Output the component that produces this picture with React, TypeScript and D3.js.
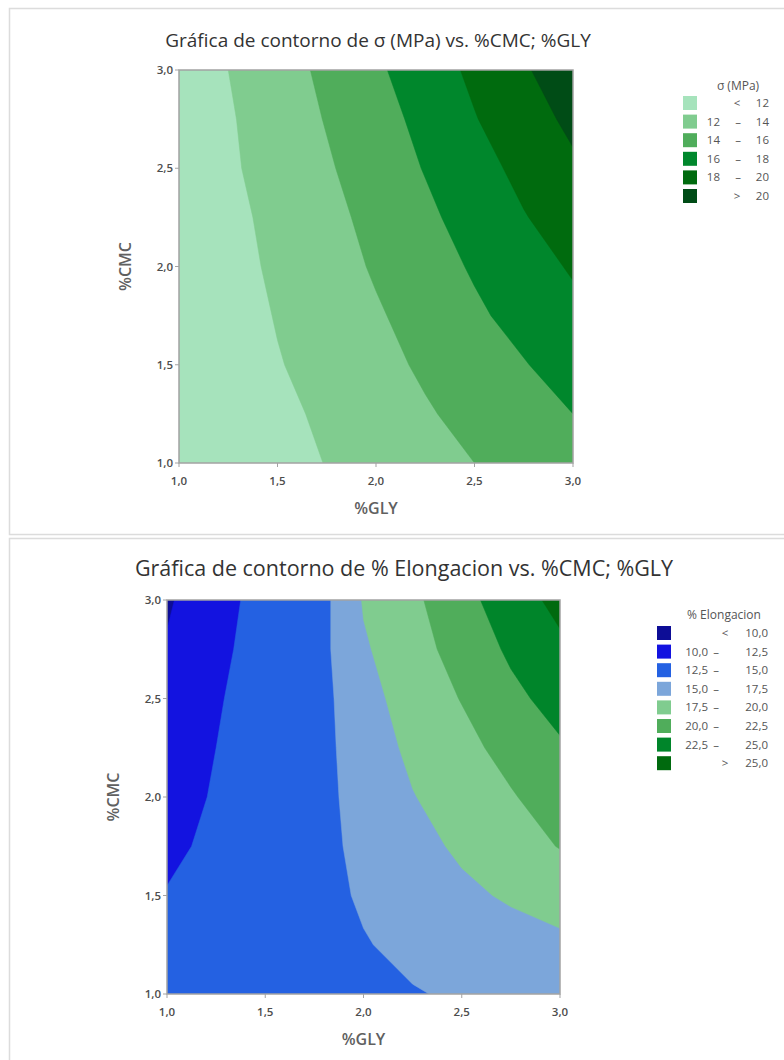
import * as d3 from 'd3'
import * as React from 'react'

//------------------------------data------------------------------
const WIDTH = 784
const HEIGHT = 1060

const axisTicks = [1.0, 1.5, 2.0, 2.5, 3.0]

// σ (MPa) surface
const sigmaGly = [1.0, 1.25, 1.5, 1.75, 2.0, 2.25, 2.5, 2.75, 3.0]
const sigmaCmc = [1.0, 1.25, 1.5, 1.75, 2.0, 2.25, 2.5, 2.75, 3.0]
// one row per %CMC level (1,0 -> 3,0), columns follow sigmaGly
const sigmaRows = [
  [10.1, 10.75, 11.4, 12.05, 12.7, 13.35, 14.0, 14.65, 15.3],
  [10.2, 10.9, 11.6, 12.3, 13.1, 13.8, 14.6, 15.3, 16.0],
  [10.2, 11.1, 11.9, 12.6, 13.4, 14.3, 15.1, 15.9, 16.8],
  [10.3, 11.2, 12.1, 12.9, 13.8, 14.7, 15.7, 16.6, 17.5],
  [10.4, 11.4, 12.3, 13.2, 14.2, 15.2, 16.2, 17.2, 18.2],
  [10.4, 11.5, 12.5, 13.5, 14.5, 15.6, 16.8, 17.9, 18.9],
  [10.5, 11.7, 12.8, 13.8, 14.9, 16.1, 17.3, 18.5, 19.7],
  [10.5, 11.8, 13.0, 14.1, 15.3, 16.5, 17.9, 19.2, 20.4],
  [10.6, 12.0, 13.2, 14.4, 15.7, 17.0, 18.4, 19.8, 21.1]
]
const sigmaThresholds = [12, 14, 16, 18, 20]
const sigmaColors = ['#a6e3bc', '#80cc8f', '#50ad5b', '#00872c', '#006b0e', '#004c16']

// % Elongacion surface (extra column at 1,875 where the bands crowd together)
const elongGly = [1.0, 1.25, 1.5, 1.75, 1.875, 2.0, 2.25, 2.5, 2.75, 3.0]
const elongCmc = [1.0, 1.25, 1.5, 1.75, 2.0, 2.25, 2.5, 2.75, 3.0]
const elongRows = [
  [13.5, 13.8, 14.1, 14.4, 14.5, 14.6, 14.9, 15.2, 15.5, 15.8],
  [13.0, 13.5, 13.9, 14.4, 14.7, 14.9, 15.4, 15.9, 16.5, 17.0],
  [12.6, 13.2, 13.9, 14.5, 14.8, 15.2, 16.1, 17.0, 17.8, 18.5],
  [12.1, 12.9, 13.7, 14.5, 14.9, 15.5, 16.7, 17.9, 19.0, 20.1],
  [11.6, 12.7, 13.6, 14.5, 15.0, 15.8, 17.4, 18.6, 19.8, 21.2],
  [11.2, 12.5, 13.5, 14.6, 15.05, 16.2, 18.0, 19.3, 20.8, 22.2],
  [10.7, 12.3, 13.5, 14.6, 15.1, 16.6, 18.6, 20.1, 21.9, 23.4],
  [10.2, 12.0, 13.4, 14.6, 15.2, 17.2, 19.1, 20.9, 22.9, 24.5],
  [9.7, 11.7, 13.3, 14.5, 15.25, 17.7, 19.5, 21.7, 23.8, 25.7]
]
const elongThresholds = [10, 12.5, 15, 17.5, 20, 22.5, 25]
const elongColors = ['#0d0d96', '#1313e0', '#2461e2', '#7ca6da', '#80cc8f', '#50ad5b', '#00852a', '#006a0e']

//------------------------------helpers------------------------------
const esLocale = d3.formatLocale({ decimal: ',', thousands: '.', grouping: [3], currency: ['', ''] })
const fmt1 = esLocale.format('.1f')
const fmt0 = esLocale.format('d')
const FONT = "'Open Sans', 'Noto Sans', sans-serif"

interface Layout {
  left: number
  top: number
  w: number
  h: number
  titleX: number
  titleY: number
  titleSize: number
  yLabelX: number
  legendTitleX: number
  legendTitleY: number
  swatchX: number
  rowTop: number
  rowStep: number
  symX: number
  loX: number
  dashX: number
  hiX: number
}

interface ContourProps {
  id: string
  xLevels: number[]
  yLevels: number[]
  rows: number[][]
  thresholds: number[]
  colors: string[]
  title: string
  legendTitle: string
  fmt: (n: number) => string
  lay: Layout
}

//------------------------------ContourChart------------------------------
const ContourChart = (props: ContourProps) => {
  const { id, xLevels, yLevels, rows, thresholds, colors, title, legendTitle, fmt, lay } = props
  const nx = xLevels.length
  const ny = yLevels.length
  const x = d3.scaleLinear().domain([1, 3]).range([lay.left, lay.left + lay.w])
  const y = d3.scaleLinear().domain([1, 3]).range([lay.top + lay.h, lay.top])
  // grid index (value i sits at i + 0.5) -> data value, piecewise for uneven levels
  const gx = d3.scaleLinear().domain(xLevels.map((_, i) => i + 0.5)).range(xLevels)
  const gy = d3.scaleLinear().domain(yLevels.map((_, i) => i + 0.5)).range(yLevels)

  const bands = d3.contours().size([nx, ny]).thresholds(thresholds)(rows.flat())
  const proj = d3.geoTransform({
    point(px: number, py: number) {
      this.stream.point(x(gx(px)), y(gy(py)))
    }
  })
  const path = d3.geoPath(proj)

  const labels = colors.map((_, i) => {
    if (i === 0) return { sym: '<', lo: '', hi: fmt(thresholds[0]) }
    if (i === colors.length - 1) return { sym: '>', lo: '', hi: fmt(thresholds[i - 1]) }
    return { sym: '', lo: fmt(thresholds[i - 1]), hi: fmt(thresholds[i]) }
  })

  return (
    <g>
      <defs>
        <clipPath id={`clip-${id}`}>
          <rect x={lay.left} y={lay.top} width={lay.w} height={lay.h} />
        </clipPath>
      </defs>
      <text x={lay.titleX} y={lay.titleY} textAnchor="middle" fontSize={lay.titleSize} fill="#333">
        {title}
      </text>
      <g clipPath={`url(#clip-${id})`}>
        <rect x={lay.left} y={lay.top} width={lay.w} height={lay.h} fill={colors[0]} />
        {bands.map((b, i) => (
          <path key={i} d={path(b as any) || ''} fill={colors[i + 1]} stroke={colors[i + 1]} strokeWidth={0.5} />
        ))}
      </g>
      <rect x={lay.left} y={lay.top} width={lay.w} height={lay.h} fill="none" stroke="#a3a3a3" strokeWidth={1.5} />
      {/* x axis */}
      {axisTicks.map(t => (
        <g key={'x' + t}>
          <line x1={x(t)} x2={x(t)} y1={lay.top + lay.h} y2={lay.top + lay.h + 4} stroke="#a3a3a3" />
          <text x={x(t)} y={lay.top + lay.h + 22} textAnchor="middle" fontSize={11.5} fontWeight={600} fill="#4d4d4d">
            {fmt1(t)}
          </text>
        </g>
      ))}
      <text x={lay.left + lay.w / 2} y={lay.top + lay.h + 51} textAnchor="middle" fontSize={16} fontWeight={600} fill="#606060">
        %GLY
      </text>
      {/* y axis */}
      {axisTicks.map(t => (
        <g key={'y' + t}>
          <line x1={lay.left - 4} x2={lay.left} y1={y(t)} y2={y(t)} stroke="#a3a3a3" />
          <text x={lay.left - 6} y={y(t) + 4} textAnchor="end" fontSize={11.5} fontWeight={600} fill="#4d4d4d">
            {fmt1(t)}
          </text>
        </g>
      ))}
      <text
        transform={`translate(${lay.yLabelX},${lay.top + lay.h / 2}) rotate(-90)`}
        textAnchor="middle"
        fontSize={16}
        fontWeight={600}
        fill="#606060"
      >
        %CMC
      </text>
      {/* legend */}
      <text x={lay.legendTitleX} y={lay.legendTitleY} textAnchor="middle" fontSize={12} fill="#555">
        {legendTitle}
      </text>
      {labels.map((l, i) => {
        const ry = lay.rowTop + i * lay.rowStep
        return (
          <g key={'l' + i} fontSize={11.5} fill="#555">
            <rect x={lay.swatchX} y={ry} width={14} height={14} fill={colors[i]} />
            {l.sym && (
              <text x={lay.symX} y={ry + 11} textAnchor="middle">
                {l.sym}
              </text>
            )}
            {l.lo && (
              <>
                <text x={lay.loX} y={ry + 11} textAnchor="end">
                  {l.lo}
                </text>
                <text x={lay.dashX} y={ry + 11} textAnchor="middle">
                  –
                </text>
              </>
            )}
            <text x={lay.hiX} y={ry + 11} textAnchor="end">
              {l.hi}
            </text>
          </g>
        )
      })}
    </g>
  )
}

//------------------------------App------------------------------
const topLayout: Layout = {
  left: 179, top: 70, w: 394, h: 393,
  titleX: 378, titleY: 47, titleSize: 19, yLabelX: 131,
  legendTitleX: 738, legendTitleY: 90,
  swatchX: 683, rowTop: 96, rowStep: 18.6,
  symX: 737, loX: 720, dashX: 738, hiX: 769
}
const bottomLayout: Layout = {
  left: 167, top: 600, w: 393, h: 394,
  titleX: 404, titleY: 576, titleSize: 21.5, yLabelX: 119,
  legendTitleX: 724, legendTitleY: 619,
  swatchX: 657, rowTop: 626, rowStep: 18.6,
  symX: 725, loX: 708, dashX: 716, hiX: 768
}

export default function App() {
  return (
    <svg width={WIDTH} height={HEIGHT} style={{ position: 'absolute', left: 0, top: 0, fontFamily: FONT }}>
      <rect width={WIDTH} height={HEIGHT} fill="#fff" />
      <rect x={9.5} y={8.5} width={800} height={526} fill="none" stroke="#dcdcdc" strokeWidth={1.5} />
      <rect x={9.5} y={538.5} width={800} height={600} fill="none" stroke="#dcdcdc" strokeWidth={1.5} />
      <ContourChart
        id="sigma"
        xLevels={sigmaGly}
        yLevels={sigmaCmc}
        rows={sigmaRows}
        thresholds={sigmaThresholds}
        colors={sigmaColors}
        title="Gráfica de contorno de σ (MPa) vs. %CMC; %GLY"
        legendTitle="σ (MPa)"
        fmt={fmt0}
        lay={topLayout}
      />
      <ContourChart
        id="elong"
        xLevels={elongGly}
        yLevels={elongCmc}
        rows={elongRows}
        thresholds={elongThresholds}
        colors={elongColors}
        title="Gráfica de contorno de % Elongacion vs. %CMC; %GLY"
        legendTitle="% Elongacion"
        fmt={fmt1}
        lay={bottomLayout}
      />
    </svg>
  )
}
